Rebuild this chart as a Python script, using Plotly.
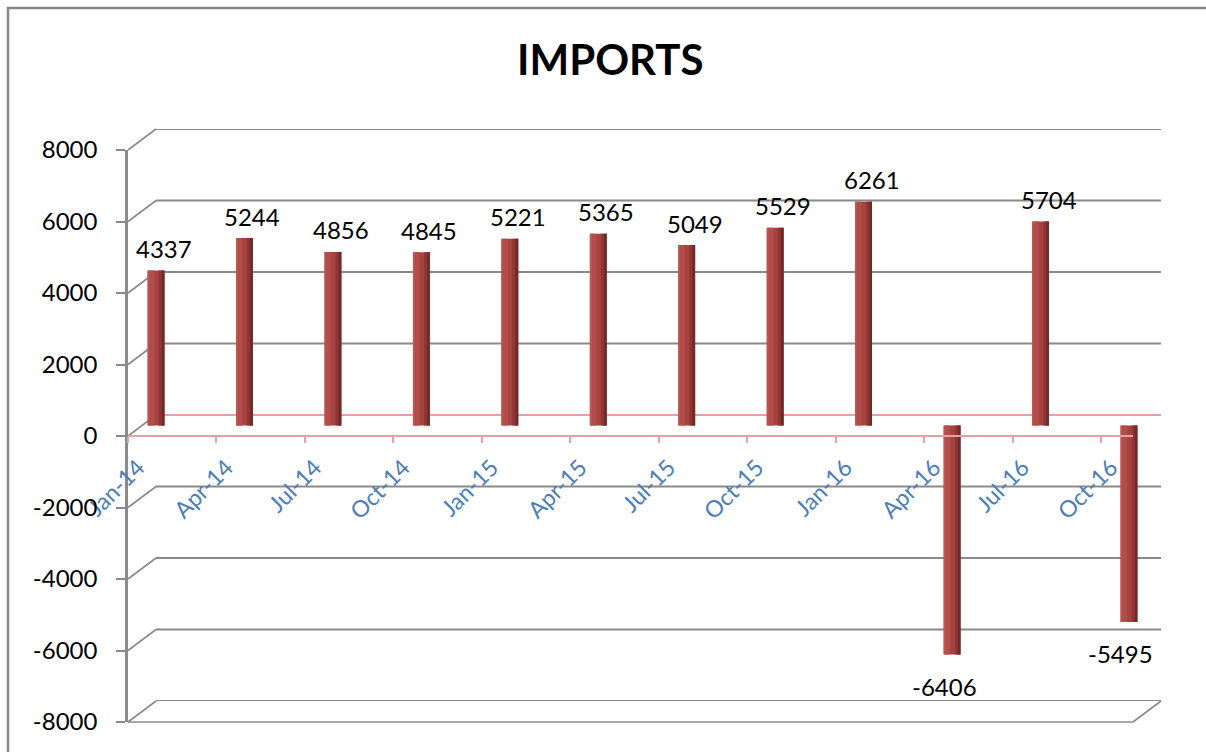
import plotly.graph_objects as go

# Quarterly import figures
quarters = ["Jan-14", "Apr-14", "Jul-14", "Oct-14", "Jan-15", "Apr-15",
            "Jul-15", "Oct-15", "Jan-16", "Apr-16", "Jul-16", "Oct-16"]
imports = [4337, 5244, 4856, 4845, 5221, 5365, 5049, 5529, 6261, -6406, 5704, -5495]
y_ticks = list(range(-8000, 8001, 2000))
y_tick_text = [str(v) for v in y_ticks]

W, H = 1206, 752
FONT = "Lato"

# Pixel geometry of the pseudo-3D box
FRONT_LEFT, FRONT_RIGHT = 128, 1133
FRONT_TOP, FRONT_BOTTOM = 150, 722
DEPTH_DX, DEPTH_DY = 28, 21           # back wall offset
BAR_DX, BAR_DY = 28, 10.5             # bar plane offset
Y_MIN, Y_MAX = -8000, 8000
CAT_STEP = 88.45                      # px per quarter
PX_PER_UNIT = (FRONT_BOTTOM - FRONT_TOP) / (Y_MAX - Y_MIN)


def px(x):
    return x / W


def py(y):
    return 1 - y / H


def y_front(v):
    return FRONT_BOTTOM - (v - Y_MIN) * PX_PER_UNIT


GRAY = "#8a8a8a"
PINK = "#e4a2a2"

fig = go.Figure()

# back wall carrier
fig.add_trace(go.Scatter(x=[0, 1], y=[Y_MIN, Y_MAX], mode="markers",
                         marker=dict(opacity=0), hoverinfo="skip",
                         showlegend=False, xaxis="x", yaxis="y"))

# cylinders: layered strips give a rounded look
strips = [
    (-0.095, 0.19, "#a6423f"),
    (-0.095, 0.025, "#b85653"),
    (-0.07, 0.05, "#b24d4a"),
    (0.03, 0.065, "#8f3533"),
    (0.065, 0.03, "#772826"),
]
for off, wid, col in strips:
    fig.add_trace(go.Bar(x=quarters, y=imports, width=wid, offset=off,
                         marker=dict(color=col, line=dict(width=0)),
                         hoverinfo="skip", showlegend=False,
                         xaxis="x2", yaxis="y2"))

# front axes carrier
fig.add_trace(go.Scatter(x=quarters, y=imports, mode="markers",
                         marker=dict(opacity=0), hoverinfo="skip",
                         showlegend=False, xaxis="x3", yaxis="y3"))

# bar-plane axis ranges
bx0, bx1 = 110, 1195
by_top, by_bot = 100, 745
bar_x_range = [(bx0 - (FRONT_LEFT + BAR_DX)) / CAT_STEP,
               (bx1 - (FRONT_LEFT + BAR_DX)) / CAT_STEP]


def v_bar(y):
    return (FRONT_BOTTOM - BAR_DY - y) / PX_PER_UNIT + Y_MIN


shapes = []
# outer chart border
shapes.append(dict(type="rect", xref="paper", yref="paper",
                   x0=px(8), x1=px(W + 10), y0=py(H + 10), y1=py(8),
                   line=dict(color="#888888", width=2.5), layer="below"))
# back wall gridlines
for v in y_ticks:
    shapes.append(dict(type="line", xref="x domain", yref="y",
                       x0=0, x1=1, y0=v, y1=v, layer="below",
                       line=dict(color=PINK if v == 0 else GRAY, width=2)))
# side wall diagonals
for v in y_ticks:
    shapes.append(dict(type="line", xref="paper", yref="paper",
                       x0=px(FRONT_LEFT), y0=py(y_front(v)),
                       x1=px(FRONT_LEFT + DEPTH_DX), y1=py(y_front(v) - DEPTH_DY),
                       line=dict(color=GRAY, width=1.6), layer="below"))
# floor front edge and right edge
shapes.append(dict(type="line", xref="paper", yref="paper",
                   x0=px(FRONT_LEFT), y0=py(y_front(Y_MIN)),
                   x1=px(FRONT_RIGHT), y1=py(y_front(Y_MIN)),
                   line=dict(color=GRAY, width=1.6), layer="below"))
shapes.append(dict(type="line", xref="paper", yref="paper",
                   x0=px(FRONT_RIGHT), y0=py(y_front(Y_MIN)),
                   x1=px(FRONT_RIGHT + DEPTH_DX), y1=py(y_front(Y_MIN) - DEPTH_DY),
                   line=dict(color=GRAY, width=1.6), layer="below"))

annotations = [dict(text="<b>IMPORTS</b>", xref="paper", yref="paper",
                    x=px(610), y=py(59), xanchor="center", yanchor="middle",
                    showarrow=False,
                    font=dict(family=FONT, size=42, color="black"))]
for q, v in zip(quarters, imports):
    pos = v >= 0
    annotations.append(dict(text=str(v), x=q, y=v, xref="x2", yref="y2",
                            showarrow=False, yanchor="middle",
                            xshift=8 if pos else -8, yshift=22 if pos else -32,
                            font=dict(family=FONT, size=24, color="black")))

fig.update_layout(
    width=W, height=H,
    margin=dict(l=0, r=0, t=0, b=0, pad=0, autoexpand=False),
    paper_bgcolor="white", plot_bgcolor="rgba(0,0,0,0)",
    barmode="overlay", showlegend=False,
    shapes=shapes, annotations=annotations,
    # back wall
    xaxis=dict(domain=[px(FRONT_LEFT + DEPTH_DX), px(FRONT_RIGHT + DEPTH_DX)],
               range=[0, 1], visible=False, anchor="y", automargin=False),
    yaxis=dict(domain=[py(FRONT_BOTTOM - DEPTH_DY), py(FRONT_TOP - DEPTH_DY)],
               range=[Y_MIN, Y_MAX], visible=False, anchor="x", automargin=False),
    # bar plane
    xaxis2=dict(domain=[px(bx0), px(bx1)], range=bar_x_range, type="category",
                categoryorder="array", categoryarray=quarters,
                visible=False, anchor="y2", automargin=False),
    yaxis2=dict(domain=[py(by_bot), py(by_top)], range=[v_bar(by_bot), v_bar(by_top)],
                visible=False, anchor="x2", automargin=False),
    # front axes
    xaxis3=dict(domain=[px(FRONT_LEFT), px(FRONT_RIGHT)],
                range=[0, (FRONT_RIGHT - FRONT_LEFT) / CAT_STEP],
                type="category", categoryorder="array", categoryarray=quarters,
                anchor="free", position=py(y_front(0)), automargin=False,
                showline=True, linecolor=PINK, linewidth=2,
                ticks="outside", tickcolor=PINK, ticklen=6, tickwidth=2,
                tickangle=-45, ticklabelstandoff=2, ticklabelshift=10,
                tickfont=dict(family=FONT, size=23, color="#4a7ebb"),
                showgrid=False, zeroline=False),
    yaxis3=dict(domain=[py(FRONT_BOTTOM), py(FRONT_TOP)], range=[Y_MIN, Y_MAX],
                tickmode="array", tickvals=y_ticks, ticktext=y_tick_text,
                anchor="x3", automargin=False,
                showline=True, linecolor=GRAY, linewidth=2.5,
                ticks="outside", tickcolor=GRAY, ticklen=9, tickwidth=2,
                ticklabelstandoff=14,
                tickfont=dict(family=FONT, size=24, color="black"),
                showgrid=False, zeroline=False),
)

fig.write_html("out.html")
